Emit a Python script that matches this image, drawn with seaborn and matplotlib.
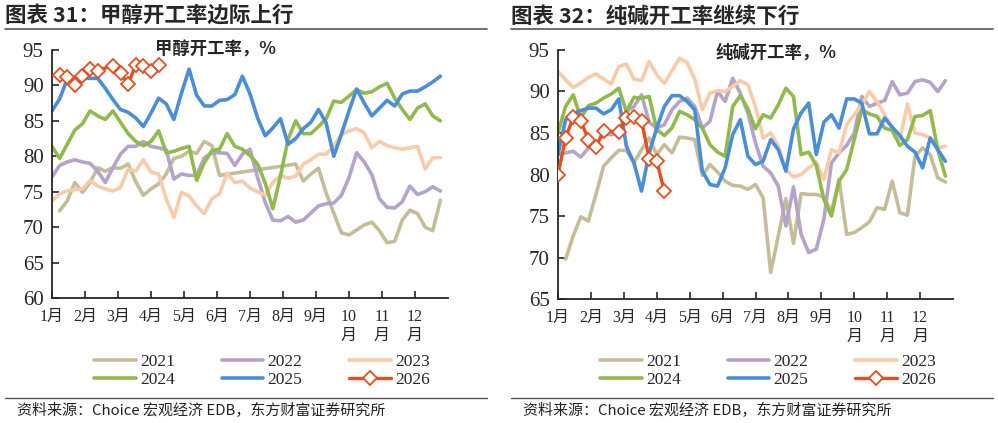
import seaborn as sns
import matplotlib.pyplot as plt

# ---- data (weekly operating rate, %) ----
years = ["2021", "2022", "2023", "2024", "2025", "2026"]
month_labels = ["1月", "2月", "3月", "4月", "5月", "6月", "7月", "8月", "9月",
                "10\n月", "11\n月", "12\n月"]

# 甲醇开工率
meth_weeks_2021 = list(range(1, 23)) + list(range(32, 52))
meth_2021 = [72.3, 73.7, 76.3, 74.9, 76.3, 78.4, 77.9, 78.4, 78.3, 78.9, 76.4,
             74.5, 75.4, 76.1, 77.5, 79.7, 80.0, 80.7, 80.4, 82.1, 81.5, 77.3,
             78.9, 76.5, 77.5, 78.3, 74.8, 72.0, 69.2, 68.9, 69.6, 70.3, 70.7,
             69.5, 67.8, 68.0, 71.0, 72.4, 71.9, 70.0, 69.5, 73.8]
meth_2022 = [77.1, 78.7, 79.2, 79.5, 79.2, 79.0, 77.9, 76.3, 78.4, 80.3, 81.4,
             81.4, 82.1, 81.4, 81.2, 80.9, 76.8, 77.5, 77.3, 77.3, 79.8, 80.5,
             80.5, 80.4, 78.7, 80.3, 81.0, 77.0, 73.5, 71.0, 70.9, 71.5, 70.7,
             71.0, 72.0, 73.0, 73.3, 73.4, 74.5, 77.0, 80.5, 79.2, 77.4, 74.0,
             72.8, 72.7, 73.6, 75.8, 74.6, 75.0, 75.7, 75.1]
meth_2023 = [73.7, 74.7, 75.1, 75.3, 75.4, 76.6, 75.8, 75.4, 75.1, 75.6, 78.2,
             77.9, 79.5, 77.8, 77.5, 74.0, 71.4, 74.9, 74.4, 73.0, 71.9, 74.0,
             74.7, 77.6, 76.3, 76.5, 75.5, 75.0, 74.5, 76.3, 77.3, 76.9, 77.2,
             78.9, 79.5, 80.3, 80.3, 81.4, 83.1, 83.6, 83.9, 83.3, 81.2, 82.1,
             81.5, 81.2, 81.0, 81.2, 81.4, 78.2, 79.8, 79.8]
meth_2024 = [81.4, 79.7, 81.7, 83.7, 84.6, 86.4, 85.7, 85.2, 86.4, 84.8, 83.2,
             82.1, 81.5, 82.1, 83.6, 80.5, 80.7, 81.1, 81.4, 76.6, 79.1, 80.8,
             81.0, 83.2, 81.4, 81.0, 80.1, 78.9, 76.2, 72.6, 77.2, 82.4, 85.0,
             83.2, 83.2, 84.2, 85.3, 87.8, 87.6, 88.5, 89.4, 88.9, 89.1, 89.8,
             90.3, 88.2, 86.6, 85.2, 86.8, 87.4, 85.7, 85.0]
meth_2025 = [86.4, 88.1, 90.9, 91.0, 91.0, 91.0, 91.0, 89.6, 88.0, 86.6, 86.2,
             85.4, 84.2, 86.1, 88.2, 87.4, 85.2, 88.9, 92.3, 88.6, 87.1, 87.1,
             87.9, 88.0, 88.7, 91.3, 88.8, 85.4, 82.9, 84.0, 85.3, 81.7, 82.5,
             83.9, 84.8, 86.6, 84.7, 80.0, 83.1, 86.4, 89.5, 87.5, 85.7, 86.8,
             87.9, 87.1, 88.8, 89.2, 89.2, 89.8, 90.5, 91.3]
meth_weeks_2026 = [1, 2, 3, 4, 5, 6, 8, 9, 10, 11, 12, 13, 14]
meth_2026 = [91.5, 91.2, 90.0, 91.3, 92.3, 92.1, 92.8, 91.7, 90.2, 92.9, 92.8,
             92.0, 92.9]

# 纯碱开工率
soda_weeks_2021 = list(range(1, 52))
soda_2021 = [69.8, 72.6, 74.9, 74.4, 77.6, 81.0, 82.0, 82.9, 82.9, 81.4, 83.0,
             84.4, 82.4, 83.6, 82.6, 84.5, 84.4, 84.2, 79.9, 81.2, 80.3, 79.2,
             78.7, 78.6, 78.2, 78.8, 77.2, 68.2, 72.6, 77.1, 71.7, 77.7, 77.6,
             77.6, 77.3, 75.5, 79.4, 72.8, 73.0, 73.6, 74.3, 76.0, 75.8, 79.2,
             75.4, 75.1, 82.2, 83.2, 82.4, 79.6, 79.1]
soda_2022 = [82.4, 82.6, 82.8, 82.1, 83.2, 83.5, 84.9, 84.8, 85.0, 87.6, 88.2,
             89.6, 86.3, 85.6, 86.0, 87.8, 88.8, 89.2, 88.2, 85.6, 86.4, 90.0,
             88.8, 91.6, 89.8, 87.4, 83.8, 81.0, 80.2, 78.6, 73.8, 78.5, 72.8,
             70.6, 71.0, 74.6, 81.4, 82.6, 83.5, 85.0, 89.4, 88.2, 88.6, 88.9,
             91.2, 89.6, 89.8, 91.2, 91.4, 91.1, 90.0, 91.3]
soda_2023 = [92.4, 91.4, 90.5, 91.0, 91.7, 92.1, 91.5, 90.9, 93.0, 93.3, 91.5,
             91.3, 93.6, 92.0, 91.0, 92.5, 94.0, 93.5, 91.5, 87.8, 89.8, 90.1,
             90.0, 90.6, 91.3, 90.8, 88.2, 84.4, 85.0, 83.4, 80.6, 79.7, 80.0,
             80.8, 81.5, 79.4, 83.0, 82.6, 86.0, 87.2, 88.4, 90.0, 88.8, 87.2,
             85.6, 84.2, 88.5, 85.0, 84.8, 84.4, 83.2, 83.4]
soda_2024 = [85.0, 88.2, 89.6, 86.8, 88.3, 88.6, 89.2, 89.7, 90.4, 87.6, 89.3,
             89.2, 89.4, 85.4, 84.7, 85.6, 87.6, 87.2, 86.6, 85.6, 83.6, 82.7,
             82.2, 88.2, 89.5, 87.9, 85.5, 87.2, 86.8, 88.4, 90.4, 89.4, 82.4,
             82.7, 81.1, 77.0, 75.0, 79.2, 80.6, 84.2, 87.8, 87.3, 87.0, 85.6,
             85.3, 83.5, 84.2, 87.0, 87.1, 87.7, 83.0, 79.8]
soda_2025 = [82.4, 86.6, 87.3, 87.7, 88.0, 88.0, 87.3, 87.8, 89.1, 83.4, 81.4,
             78.0, 82.6, 85.6, 88.2, 89.5, 89.5, 88.8, 87.8, 80.4, 78.8, 78.6,
             80.8, 84.8, 86.6, 82.2, 81.2, 81.6, 84.2, 83.0, 80.4, 85.5, 87.4,
             88.6, 82.4, 86.3, 87.2, 85.6, 89.1, 89.1, 88.6, 84.9, 84.9, 86.8,
             85.7, 84.7, 83.4, 82.7, 80.8, 84.4, 83.0, 81.6]
soda_weeks_2026 = [0, 1, 2, 3, 4, 5, 6, 8, 9, 10, 11, 12, 13, 14]
soda_2026 = [80.0, 84.4, 86.9, 86.5, 84.2, 83.3, 85.3, 85.1, 86.8, 86.9, 86.5,
             81.9, 81.6, 78.0]

full_weeks = list(range(52))

colors = {"2021": "#C5BD97", "2022": "#B4A3CA", "2023": "#F9CBA8",
          "2024": "#91BA4D", "2025": "#4A8EDA", "2026": "#E2501F"}

sns.set_style("ticks")
plt.rcParams["font.family"] = ["Liberation Serif", "Noto Sans CJK SC"]
plt.rcParams["axes.linewidth"] = 1.3

CJK = ["Noto Sans CJK SC", "DejaVu Sans"]


def plot_panel(fig, rect, series, ylim, inner_title, inner_xy):
    ax = fig.add_axes(rect)
    for year, (xs, ys) in zip(years, series):
        if year == "2026":
            sns.lineplot(x=xs, y=ys, ax=ax, color=colors[year], lw=2.4,
                         marker="D", markersize=6.8, markerfacecolor="white",
                         markeredgecolor=colors[year], markeredgewidth=1.3,
                         label=year, zorder=5)
        else:
            sns.lineplot(x=xs, y=ys, ax=ax, color=colors[year], lw=2.6,
                         label=year)
    ax.set_xlim(0, 52)
    ax.set_ylim(*ylim)
    ax.set_yticks(range(ylim[0], ylim[1] + 1, 5))
    ax.set_xticks([k * 52 / 12 for k in range(12)])
    ax.set_xticklabels(month_labels, fontsize=11.5, linespacing=1.2,
                       va="top")
    ax.tick_params(axis="x", direction="in", length=5, width=1.2, pad=8)
    ax.tick_params(axis="y", direction="in", length=5, width=1.2, pad=6,
                   labelsize=15)
    ax.spines["top"].set_visible(False)
    ax.spines["right"].set_visible(False)
    ax.set_xlabel("")
    ax.set_ylabel("")
    ax.text(inner_xy[0], inner_xy[1], inner_title, transform=fig.transFigure,
            ha="center", va="center", fontsize=12.5, fontweight="bold",
            family=CJK)
    handles, labels = ax.get_legend_handles_labels()
    order = [0, 3, 1, 4, 2, 5]
    ax.get_legend().remove()
    return ax, [handles[i] for i in order], [labels[i] for i in order]


W, H = 998, 423
fig = plt.figure(figsize=(W / 100, H / 100), dpi=100)

meth_series = [(meth_weeks_2021, meth_2021), (full_weeks, meth_2022),
               (full_weeks, meth_2023), (full_weeks, meth_2024),
               (full_weeks, meth_2025), (meth_weeks_2026, meth_2026)]
soda_series = [(soda_weeks_2021, soda_2021), (full_weeks, soda_2022),
               (full_weeks, soda_2023), (full_weeks, soda_2024),
               (full_weeks, soda_2025), (soda_weeks_2026, soda_2026)]

panels = [
    dict(rect=[52 / W, 1 - 298 / H, 396 / W, 248 / H], series=meth_series,
         ylim=(60, 95), inner="甲醇开工率，%", inner_xy=(215 / W, 1 - 50 / H),
         title="图表 31：甲醇开工率边际上行", x0=5, x1=487, legx=262),
    dict(rect=[558 / W, 1 - 299 / H, 395 / W, 249 / H], series=soda_series,
         ylim=(65, 95), inner="纯碱开工率，%", inner_xy=(776 / W, 1 - 53 / H),
         title="图表 32：纯碱开工率继续下行", x0=511, x1=993, legx=768),
]

for p in panels:
    ax, hs, ls = plot_panel(fig, p["rect"], p["series"], p["ylim"],
                            p["inner"], p["inner_xy"])
    fig.legend(hs, ls, ncol=3, loc="center",
               bbox_to_anchor=(p["legx"] / W, 1 - 371 / H),
               frameon=False, handlelength=2.4,
               handletextpad=0.25, columnspacing=2.7, labelspacing=0.15,
               prop={"family": "Liberation Serif", "size": 12.5})
    fig.text(p["x0"] / W, 1 - 16 / H, p["title"], ha="left", va="center",
             fontsize=15.5, fontweight="bold", family=CJK)
    fig.add_artist(plt.Line2D([p["x0"] / W, p["x1"] / W],
                              [1 - 29 / H, 1 - 29 / H], color="#555555",
                              lw=1.2, transform=fig.transFigure))
    fig.add_artist(plt.Line2D([p["x0"] / W, p["x1"] / W],
                              [1 - 398 / H, 1 - 398 / H], color="#555555",
                              lw=1.0, transform=fig.transFigure))
    fig.text((p["x0"] + 12) / W, 1 - 410 / H,
             "资料来源：Choice 宏观经济 EDB，东方财富证券研究所",
             ha="left", va="center", fontsize=10.8, color="#222222",
             family=CJK)

fig.savefig("out.png", dpi=100)
